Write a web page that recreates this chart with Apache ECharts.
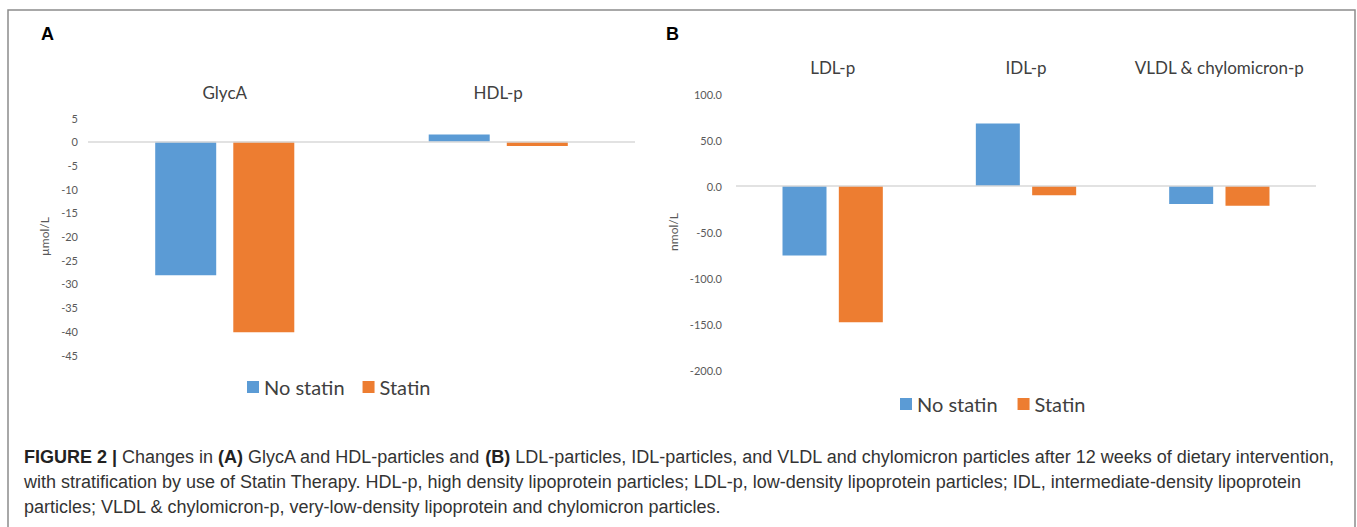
<!DOCTYPE html>
<html>
<head>
<meta charset="utf-8">
<script src="https://cdn.jsdelivr.net/npm/echarts@6/dist/echarts.min.js"></script>
<style>
html,body{margin:0;padding:0;background:#fff;}
#chart{width:1357px;height:527px;}
</style>
</head>
<body>
<div id="chart"></div>
<script>
// ---- data ----
const seriesNames = ['No statin', 'Statin'];
const categoriesA = ['GlycA', 'HDL-p'];
const noStatinA = [-28.2, 1.5];
const statinA = [-40.2, -0.9];
const categoriesB = ['LDL-p', 'IDL-p', 'VLDL & chylomicron-p'];
const noStatinB = [-75.5, 68, -19.5];
const statinB = [-148, -10, -21.5];
const yRangeA = {min: -45, max: 5, interval: 5};
const yRangeB = {min: -200, max: 100, interval: 50};
const yNameA = 'µmol/L';
const yNameB = 'nmol/L';
const captionLines = [
  '{b|FIGURE 2 |} Changes in {b|(A)} GlycA and HDL-particles and {b|(B)} LDL-particles, IDL-particles, and VLDL and chylomicron particles after 12 weeks of dietary intervention,',
  'with stratification by use of Statin Therapy. HDL-p, high density lipoprotein particles; LDL-p, low-density lipoprotein particles; IDL, intermediate-density lipoprotein',
  'particles; VLDL & chylomicron-p, very-low-density lipoprotein and chylomicron particles.'
];

const BLUE = '#5B9BD5', ORANGE = '#ED7D31';
const labelFont = 'Lato, "Open Sans", sans-serif';
const capFont = '"Liberation Sans", Arial, sans-serif';
const chart = echarts.init(document.getElementById('chart'), null, {renderer: 'svg'});

function zeroLine() {
  return {silent: true, symbol: 'none', label: {show: false},
    lineStyle: {color: '#d9d9d9', width: 1.5, type: 'solid'}, data: [{yAxis: 0}]};
}
function yAxisCfg(range, name, gridIndex, gap, margin, decimals) {
  return {type: 'value', gridIndex, min: range.min, max: range.max, interval: range.interval,
    name, nameLocation: 'middle', nameRotate: 90, nameGap: gap,
    nameTextStyle: {color: '#595959', fontSize: 12, fontFamily: labelFont},
    axisLine: {show: false}, axisTick: {show: false}, splitLine: {show: false},
    axisLabel: {color: '#595959', fontSize: 11, fontFamily: labelFont, margin,
      formatter: v => decimals ? v.toFixed(1) : String(v)}};
}
function xAxisCfg(cats, gridIndex, margin) {
  return {type: 'category', gridIndex, data: cats, position: 'top',
    axisLine: {show: false, onZero: false}, axisTick: {show: false},
    axisLabel: {color: '#404040', fontSize: 17, fontFamily: labelFont, margin, interval: 0}};
}
function bar(name, data, idx, width, color, withLine) {
  const s = {type: 'bar', name, data, xAxisIndex: idx, yAxisIndex: idx,
    barWidth: width, barGap: '28%', itemStyle: {color}, emphasis: {disabled: true}};
  if (withLine) s.markLine = zeroLine();
  return s;
}

const captionGraphics = captionLines.map((t, i) => ({
  type: 'text', left: 24, top: 448 + i * 25,
  style: {text: t, fill: '#333', font: '18px ' + capFont,
    rich: {b: {fontWeight: 'bold', fontSize: 18, fontFamily: capFont, fill: '#222'}}}
}));

chart.setOption({
  animation: false,
  backgroundColor: '#fff',
  grid: [
    {left: 88, top: 118, width: 547, height: 237},
    {left: 736, top: 94, width: 580, height: 276}
  ],
  xAxis: [xAxisCfg(categoriesA, 0, 17), xAxisCfg(categoriesB, 1, 18)],
  yAxis: [yAxisCfg(yRangeA, yNameA, 0, 38, 10, false), yAxisCfg(yRangeB, yNameB, 1, 57, 14, true)],
  legend: [
    {left: 242, top: 372, itemWidth: 12, itemHeight: 12, itemGap: 18, icon: 'rect',
      textStyle: {fontSize: 20, color: '#404040', fontFamily: labelFont}, data: seriesNames},
    {left: 895, top: 389, itemWidth: 12, itemHeight: 12, itemGap: 20, icon: 'rect',
      textStyle: {fontSize: 20, color: '#404040', fontFamily: labelFont}, data: seriesNames}
  ],
  series: [
    bar(seriesNames[0], noStatinA, 0, 61, BLUE, true),
    bar(seriesNames[1], statinA, 0, 61, ORANGE, false),
    bar(seriesNames[0], noStatinB, 1, 44, BLUE, true),
    bar(seriesNames[1], statinB, 1, 44, ORANGE, false)
  ],
  graphic: [
    {type: 'rect', shape: {x: 8, y: 10, width: 1347, height: 540}, silent: true,
      style: {fill: 'none', stroke: '#8c8c8c', lineWidth: 1.5}},
    {type: 'text', left: 41, top: 25, style: {text: 'A', fill: '#000', font: 'bold 18px ' + capFont}},
    {type: 'text', left: 666, top: 25, style: {text: 'B', fill: '#000', font: 'bold 18px ' + capFont}},
    ...captionGraphics
  ]
});
</script>
</body>
</html>
